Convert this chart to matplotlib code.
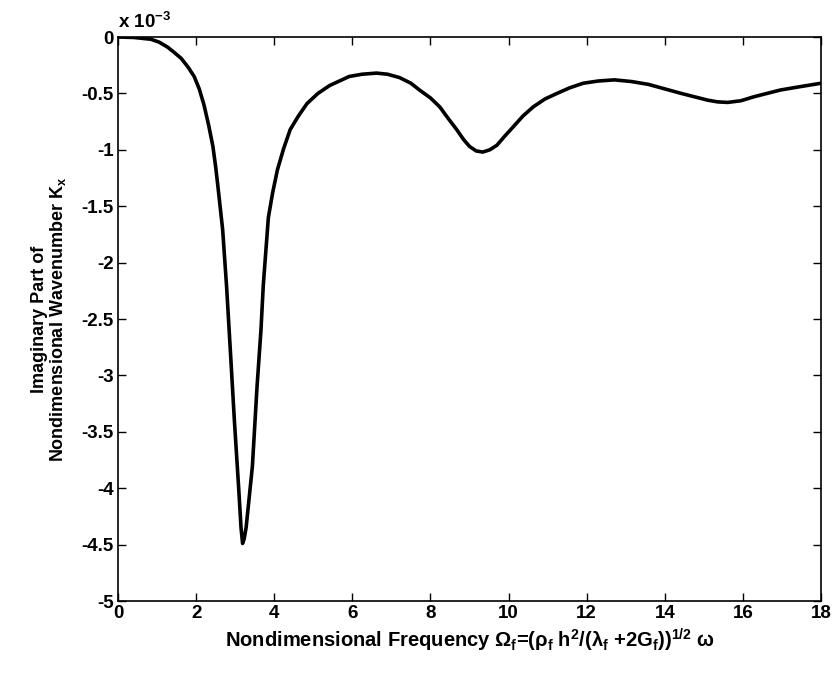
import matplotlib
matplotlib.use("Agg")
import matplotlib.pyplot as plt

plt.rcParams['font.family'] = ['Liberation Sans', 'DejaVu Sans']
plt.rcParams['mathtext.fontset'] = 'custom'
plt.rcParams['mathtext.rm'] = 'Liberation Sans:bold'
plt.rcParams['mathtext.it'] = 'Liberation Sans:bold'
plt.rcParams['mathtext.bf'] = 'Liberation Sans:bold'
plt.rcParams['mathtext.default'] = 'regular'

# Data (imaginary part of wavenumber, in units of 1e-3)
omega = [0, 0.4, 0.84, 1.05, 1.27, 1.45, 1.62, 1.80, 1.95, 2.08, 2.20, 2.32, 2.43,
         2.50, 2.56, 2.62, 2.68, 2.78, 2.88, 2.98, 3.09, 3.15, 3.19, 3.23, 3.28,
         3.44, 3.56, 3.66, 3.72, 3.85, 3.96, 4.08, 4.24, 4.41, 4.62, 4.84, 5.12,
         5.42, 5.92, 6.25, 6.62, 6.90, 7.21, 7.50, 7.72, 8.00, 8.24, 8.45, 8.67,
         8.85, 9.00, 9.17, 9.34, 9.52, 9.70, 9.90, 10.11, 10.37, 10.63, 10.93,
         11.24, 11.57, 11.91, 12.30, 12.71, 13.15, 13.58, 14.00, 14.42, 14.76,
         15.10, 15.35, 15.61, 15.95, 16.28, 16.62, 16.96, 17.47, 18.0]
imag_kx = [0, -0.004, -0.02, -0.045, -0.09, -0.14, -0.19, -0.27, -0.35, -0.46, -0.60,
           -0.78, -0.97, -1.15, -1.33, -1.52, -1.71, -2.21, -2.80, -3.40, -4.00, -4.35,
           -4.49, -4.45, -4.35, -3.81, -3.10, -2.60, -2.20, -1.60, -1.38, -1.18, -0.99,
           -0.82, -0.70, -0.59, -0.50, -0.43, -0.35, -0.33, -0.32, -0.33, -0.36, -0.41,
           -0.47, -0.54, -0.62, -0.72, -0.82, -0.91, -0.97, -1.01, -1.02, -1.00, -0.96,
           -0.88, -0.80, -0.70, -0.62, -0.55, -0.50, -0.45, -0.41, -0.39, -0.38, -0.395,
           -0.42, -0.46, -0.50, -0.53, -0.56, -0.575, -0.58, -0.565, -0.53, -0.50,
           -0.47, -0.44, -0.41]

xticks = [0, 2, 4, 6, 8, 10, 12, 14, 16, 18]
yticks = [0, -0.5, -1, -1.5, -2, -2.5, -3, -3.5, -4, -4.5, -5]
ytick_labels = ['0', '-0.5', '-1', '-1.5', '-2', '-2.5', '-3', '-3.5', '-4', '-4.5', '-5']

fig = plt.figure(figsize=(8.36, 6.73), dpi=100)
ax = fig.add_axes([118/836, 1 - 601/673, (821-118)/836, (601-37)/673])

ax.plot(omega, imag_kx, color='black', lw=2.6, solid_joinstyle='round', solid_capstyle='round')

ax.set_xlim(0, 18)
ax.set_ylim(-5, 0)
ax.set_xticks(xticks)
ax.set_xticklabels([str(t) for t in xticks], fontsize=13.5, fontweight='bold')
ax.set_yticks(yticks)
ax.set_yticklabels(ytick_labels, fontsize=13.5, fontweight='bold')
ax.tick_params(direction='in', top=True, right=True, length=6, width=1, pad=3)
for s in ax.spines.values():
    s.set_linewidth(1.2)

ax.text(0.0, 1.008, r'x 10$^{-3}$', transform=ax.transAxes, fontsize=13.5,
        fontweight='bold', ha='left', va='bottom')

ax.set_xlabel(r'Nondimensional Frequency $\Omega_f$=($\rho_f$ h$^2$/($\lambda_f$ +2G$_f$))$^{1/2}$ $\omega$',
              fontsize=14.5, fontweight='bold', labelpad=3)
ax.set_ylabel('Imaginary Part of\nNondimensional Wavenumber K$_x$', fontsize=13,
              fontweight='bold', labelpad=10, linespacing=0.95)

fig.savefig('out.png', dpi=100, facecolor='white')
